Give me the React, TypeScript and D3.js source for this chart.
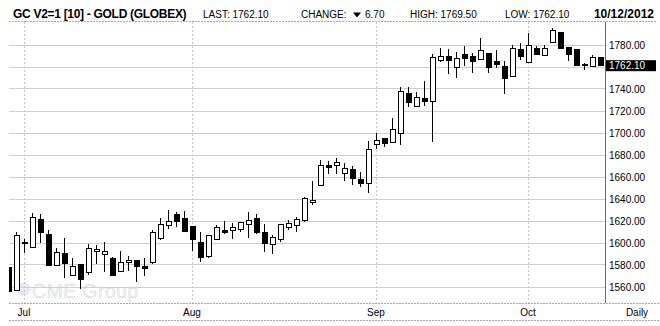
import React from 'react';
import * as d3 from 'd3';

const dates: string[] = [
  '2012-06-28', '2012-06-29',
  '2012-07-02', '2012-07-03', '2012-07-05', '2012-07-06', '2012-07-09', '2012-07-10', '2012-07-11', '2012-07-12', '2012-07-13',
  '2012-07-16', '2012-07-17', '2012-07-18', '2012-07-19', '2012-07-20', '2012-07-23', '2012-07-24', '2012-07-25', '2012-07-26',
  '2012-07-27', '2012-07-30', '2012-07-31',
  '2012-08-01', '2012-08-02', '2012-08-03', '2012-08-06', '2012-08-07', '2012-08-08', '2012-08-09', '2012-08-10', '2012-08-13',
  '2012-08-14', '2012-08-15', '2012-08-16', '2012-08-17', '2012-08-20', '2012-08-21', '2012-08-22', '2012-08-23', '2012-08-24',
  '2012-08-27', '2012-08-28', '2012-08-29', '2012-08-30', '2012-08-31',
  '2012-09-04', '2012-09-05', '2012-09-06', '2012-09-07', '2012-09-10', '2012-09-11', '2012-09-12', '2012-09-13', '2012-09-14',
  '2012-09-17', '2012-09-18', '2012-09-19', '2012-09-20', '2012-09-21', '2012-09-24', '2012-09-25', '2012-09-26', '2012-09-27',
  '2012-09-28',
  '2012-10-01', '2012-10-02', '2012-10-03', '2012-10-04', '2012-10-05', '2012-10-08', '2012-10-09', '2012-10-10', '2012-10-11',
  '2012-10-12',
];

const opens: number[] = [
  1578, 1557.3,
  1601, 1596.7, 1621.5, 1608.2, 1580, 1591.2, 1570.9, 1581, 1573.6, 1592.4, 1590.3, 1586, 1574.5, 1582.7, 1584.5, 1578.8,
  1582.4, 1604.5, 1616.4, 1626.4, 1622.7,
  1615.8, 1600.9, 1588, 1603.3, 1611.8, 1611.5, 1612.4, 1617, 1622.4, 1610.3, 1598.8, 1603.3, 1614.2, 1616.4, 1620.6, 1637,
  1652.4, 1670.6, 1670.6, 1663.3, 1667, 1658.2,
  1654.2, 1690, 1695.2, 1691.5, 1699.7, 1736, 1724.8, 1731.5, 1729.4, 1766, 1769.7, 1760.3, 1771.5, 1769.7, 1767.3, 1772.4,
  1765.5, 1760.6, 1751.5,
  1776.5, 1764.5, 1777.3, 1770.6, 1782.7, 1791.8, 1778.2, 1776, 1762.4, 1760.6,
  1769.5,
];

const highs: number[] = [
  1579, 1610,
  1604, 1627, 1626.4, 1611.8, 1595.2, 1604.3, 1586, 1581, 1599, 1598, 1600.6, 1587.6, 1593, 1588.5, 1584.5, 1586,
  1611.8, 1623, 1630.3, 1628, 1629.4,
  1615.8, 1609.7, 1607.6, 1616.4, 1620, 1617.9, 1618.8, 1627.9, 1626, 1617, 1607.3, 1617, 1620.9, 1624, 1642, 1656,
  1675.5, 1674.5, 1677.3, 1672.4, 1670, 1664.2,
  1692.7, 1699.7, 1695.2, 1713.3, 1741.5, 1741.5, 1737.6, 1747.3, 1771.5, 1777.6, 1776.4, 1774, 1779, 1772.4, 1786, 1772.4,
  1775.5, 1765.5, 1780,
  1782, 1790.9, 1779, 1779.7, 1795.2, 1791.8, 1778.2, 1776, 1764, 1771.2,
  1769.5,
];

const lows: number[] = [
  1553, 1557.3,
  1590.6, 1596.7, 1600.3, 1579, 1579, 1567.9, 1570, 1558, 1571, 1581, 1573.5, 1569.7, 1574.5, 1574.5, 1564.2, 1569.7,
  1580.9, 1602.7, 1612.7, 1614.2, 1610.6,
  1593, 1583, 1586.7, 1603.3, 1607.9, 1604, 1610.3, 1604.8, 1608.2, 1591.5, 1590.3, 1601.2, 1611.5, 1609.7, 1619.4, 1634.3,
  1652.4, 1662.4, 1662.7, 1656.7, 1652.4, 1650.6,
  1645.2, 1685.2, 1687, 1691.5, 1688.8, 1724, 1724.8, 1724.8, 1691.5, 1764.8, 1753.9, 1750.3, 1761.2, 1754.8, 1766, 1754.8,
  1758.8, 1735.2, 1751,
  1766.7, 1764.5, 1771, 1770.6, 1782, 1776, 1765.8, 1761.5, 1757.6, 1760.6,
  1762.1,
];

const closes: number[] = [
  1556, 1607.3,
  1600, 1624, 1610.3, 1580, 1591.8, 1581.5, 1579.1, 1567, 1595.2, 1594.5, 1592.4, 1571.2, 1582.4, 1584.5, 1579.1, 1577.6,
  1610.3, 1617.3, 1620.3, 1620.3, 1610.6,
  1603.6, 1587, 1607.6, 1614.2, 1609.7, 1614.2, 1618.8, 1620.9, 1609.7, 1599.7, 1605.5, 1617, 1617.9, 1622.1, 1641.2, 1639.1,
  1670.6, 1669.4, 1673.3, 1667.9, 1659.4, 1654.2,
  1685.2, 1693.6, 1690.6, 1703.3, 1737.9, 1727.9, 1732.4, 1729.4, 1768.8, 1769.7, 1766.7, 1767.9, 1767.9, 1765.8, 1775.5, 1760.3,
  1762.4, 1749.7, 1777,
  1770, 1779.7, 1771.5, 1777.3, 1793.3, 1777.3, 1772.1, 1761.5, 1761.5, 1769.1,
  1762.1,
];

const yTicks: number[] = [1560, 1580, 1600, 1620, 1640, 1660, 1680, 1700, 1720, 1740, 1760, 1780];

const titleText = 'GC V2=1 [10] - GOLD (GLOBEX)';
const lastText = 'LAST: 1762.10';
const changeLabel = 'CHANGE:';
const changeValue = '6.70';
const highText = 'HIGH: 1769.50';
const lowText = 'LOW: 1762.10';
const dateText = '10/12/2012';
const lastPrice = 1762.1;
const periodText = 'Daily';

const W = 660;
const H = 326;
const FONT = '"Liberation Sans", Arial, sans-serif';

export default function App() {
  const plotLeft = 9;
  const plotRight = 605;
  const plotTop = 22;
  const plotBottom = 303;

  const x = d3.scalePoint<string>().domain(dates).range([8, 600]);
  const y = d3.scaleLinear().domain([1560, 1780]).range([287, 45]);
  const parse = d3.timeParse('%Y-%m-%d');
  const fmtMonth = d3.timeFormat('%b');

  const monthStarts: { date: string; label: string }[] = [];
  dates.forEach((d, i) => {
    if (i === 0) return;
    const cur = parse(d)!;
    const prev = parse(dates[i - 1])!;
    if (cur.getMonth() !== prev.getMonth()) {
      monthStarts.push({ date: d, label: fmtMonth(cur) });
    }
  });

  const snap = (v: number) => Math.floor(v) + 0.5;
  const lastY = y(lastPrice) + 1;

  return (
    <div style={{ position: 'fixed', left: 0, top: 0, width: W, height: H, background: '#fff' }}>
      <svg width={W} height={H} style={{ display: 'block', fontFamily: FONT }}>
        <defs>
          <clipPath id="plotClip">
            <rect x={plotLeft} y={plotTop} width={plotRight - plotLeft} height={plotBottom - plotTop} />
          </clipPath>
        </defs>
        <rect x={0} y={0} width={W} height={H} fill="#fff" />

        {/* header */}
        <text x={13} y={18} fontSize={12} fontWeight="bold" letterSpacing={-0.3} fill="#000">
          {titleText}
        </text>
        <text x={203} y={18} fontSize={10} fill="#000">{lastText}</text>
        <text x={301} y={18} fontSize={10} fill="#000">{changeLabel}</text>
        <path d="M353,12.5 L361,12.5 L357,17.5 Z" fill="#000" />
        <text x={365} y={18} fontSize={10} fill="#000">{changeValue}</text>
        <text x={410} y={18} fontSize={10} fill="#000">{highText}</text>
        <text x={505} y={18} fontSize={10} fill="#000">{lowText}</text>
        <text x={654} y={18} fontSize={12} fontWeight="bold" textAnchor="end" fill="#000">{dateText}</text>
        <line x1={9} x2={657} y1={21.5} y2={21.5} stroke="#a8a8a8" strokeDasharray="2,1" />

        {/* watermark */}
        <g>
          <circle cx={24} cy={289} r={6} fill="#e6edf6" stroke="#d8e0ec" />
          <text x={32} y={298} fontSize={19.5} letterSpacing={0.4} fill="#eef0f4" stroke="#dadde5" strokeWidth={0.5}>
            CME Group
          </text>
        </g>

        {/* horizontal grid */}
        {yTicks.map((t) => (
          <line key={'h' + t} x1={plotLeft} x2={plotRight} y1={snap(y(t))} y2={snap(y(t))} stroke="#cdd0cd" />
        ))}
        {/* vertical grid */}
        {monthStarts.map((m) => (
          <line
            key={'v' + m.date}
            x1={snap(x(m.date)!)}
            x2={snap(x(m.date)!)}
            y1={plotTop}
            y2={plotBottom}
            stroke="#c8c8c8"
            strokeDasharray="2,2"
          />
        ))}

        {/* candles */}
        <g clipPath="url(#plotClip)" shapeRendering="crispEdges">
          {dates.map((d, i) => {
            const cx = snap(x(d)!);
            const o = opens[i];
            const c = closes[i];
            const up = c >= o;
            const top = Math.round(y(Math.max(o, c)));
            const bot = Math.round(y(Math.min(o, c)));
            const hgt = Math.max(bot - top, 1);
            return (
              <g key={d}>
                <line x1={cx} x2={cx} y1={Math.round(y(highs[i]))} y2={Math.round(y(lows[i]))} stroke="#000" />
                <rect
                  x={cx - 2.5}
                  y={top + 0.5}
                  width={5}
                  height={hgt}
                  fill={up ? '#fff' : '#000'}
                  stroke="#000"
                />
              </g>
            );
          })}
        </g>

        {/* right axis */}
        <line x1={605.5} x2={605.5} y1={plotTop} y2={plotBottom} stroke="#666" />
        {yTicks.map((t) =>
          Math.abs(y(t) - lastY) < 9 ? null : (
            <text key={'yl' + t} x={609} y={y(t) + 3.5} fontSize={10} fill="#000">
              {d3.format('.2f')(t)}
            </text>
          )
        )}
        <rect x={606} y={lastY - 5.5} width={50} height={11} fill="#000" />
        <text x={609} y={lastY + 3.5} fontSize={10} fill="#fff">
          {d3.format('.2f')(lastPrice)}
        </text>

        {/* x axis */}
        <line x1={9} x2={660} y1={303.5} y2={303.5} stroke="#a8a8a8" strokeDasharray="2,1" />
        <line x1={9} x2={660} y1={320.5} y2={320.5} stroke="#a8a8a8" strokeDasharray="2,1" />
        {monthStarts.map((m) => (
          <text key={'xl' + m.date} x={x(m.date)!} y={316} fontSize={10} textAnchor="middle" fill="#000">
            {m.label}
          </text>
        ))}
        <text x={637} y={316} fontSize={10} textAnchor="middle" fill="#000">{periodText}</text>
      </svg>
    </div>
  );
}
